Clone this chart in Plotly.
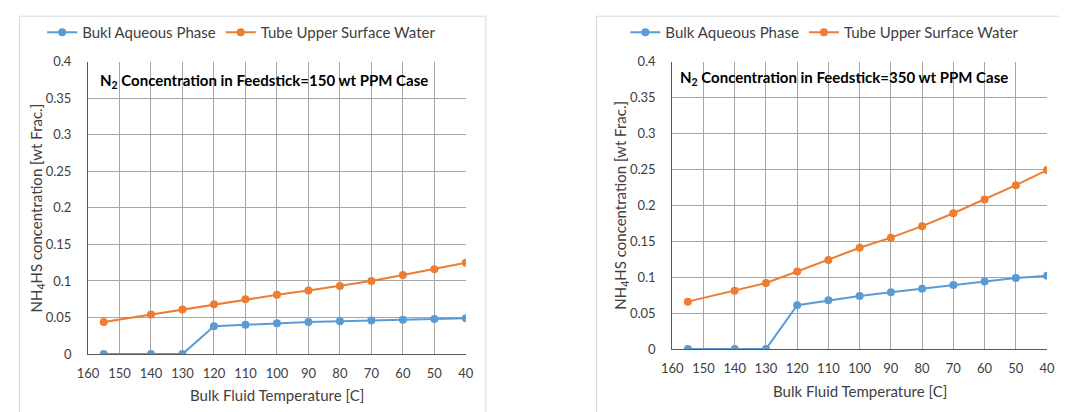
import plotly.graph_objects as go

temps = [155, 140, 130, 120, 110, 100, 90, 80, 70, 60, 50, 40]
x_ticks = [160, 150, 140, 130, 120, 110, 100, 90, 80, 70, 60, 50, 40]

left_bulk = [0, 0, 0, 0.038, 0.040, 0.042, 0.044, 0.045, 0.046, 0.047, 0.048, 0.049]
left_tube = [0.044, 0.054, 0.061, 0.068, 0.075, 0.081, 0.087, 0.093, 0.100, 0.108, 0.116, 0.125]
right_bulk = [0, 0, 0, 0.061, 0.068, 0.074, 0.079, 0.084, 0.089, 0.094, 0.099, 0.102]
right_tube = [0.066, 0.081, 0.092, 0.108, 0.124, 0.141, 0.155, 0.171, 0.189, 0.208, 0.228, 0.249]

left_names = ["Bukl Aqueous Phase", "Tube Upper Surface Water"]
right_names = ["Bulk Aqueous Phase", "Tube Upper Surface Water"]
left_title = "<b>N<sub>2</sub> Concentration in Feedstick=150 wt PPM Case</b>"
right_title = "<b>N<sub>2</sub> Concentration in Feedstick=350 wt PPM Case</b>"
x_title = "Bulk Fluid Temperature [C]"
y_title = "NH<sub>4</sub>HS concentration [wt Frac.]"

BLUE = "#5B9BD5"
ORANGE = "#ED7D31"
TXT = "#404040"
FONT = "Lato"
W, H = 1067, 412
# mapping from target picture pixels to figure pixels (page offset / capture scale)
SX, SY = 1083 / 1067, 428 / 412
OFF = 16


def px(v):
    return (v * SX - OFF) / W


def py(v):
    return 1 - (v * SY - OFF) / H


fig = go.Figure()

for vals, name, color, xa, ya, lg in [
    (left_bulk, left_names[0], BLUE, "x", "y", "legend"),
    (left_tube, left_names[1], ORANGE, "x", "y", "legend"),
    (right_bulk, right_names[0], BLUE, "x2", "y2", "legend2"),
    (right_tube, right_names[1], ORANGE, "x2", "y2", "legend2"),
]:
    fig.add_trace(go.Scatter(
        x=temps, y=vals, name=name, mode="lines+markers",
        line=dict(color=color, width=2),
        marker=dict(color=color, size=8),
        xaxis=xa, yaxis=ya, legend=lg,
    ))

axis_common = dict(
    showgrid=True, gridcolor="#a6a6a6", gridwidth=1,
    showline=True, linecolor="#595959", linewidth=1,
    zeroline=False, ticks="",
    tickfont=dict(family=FONT, size=13, color=TXT),
)

fig.update_layout(
    width=W, height=H,
    margin=dict(l=0, r=0, t=0, b=0),
    paper_bgcolor="white", plot_bgcolor="white",
    font=dict(family=FONT, color=TXT),
    xaxis=dict(domain=[px(85), px(464)], range=[160, 40], tickvals=x_ticks,
               anchor="y", ticklabelstandoff=7, **axis_common),
    yaxis=dict(domain=[py(354), py(61)], range=[0, 0.4], dtick=0.05, anchor="x",
               ticklabelstandoff=13, **axis_common),
    xaxis2=dict(domain=[px(671), px(1047)], range=[160, 40], tickvals=x_ticks,
                anchor="y2", ticklabelstandoff=7, **axis_common),
    yaxis2=dict(domain=[py(349), py(61)], range=[0, 0.4], dtick=0.05, anchor="x2",
                ticklabelstandoff=13, **axis_common),
    legend=dict(orientation="h", x=px(39), y=py(32), xanchor="left", yanchor="middle",
                font=dict(family=FONT, size=15, color=TXT), bgcolor="rgba(0,0,0,0)"),
    legend2=dict(orientation="h", x=px(624), y=py(32), xanchor="left", yanchor="middle",
                 font=dict(family=FONT, size=15, color=TXT), bgcolor="rgba(0,0,0,0)"),
    showlegend=True,
)

for title, x0, y0 in [(left_title, 95, 80), (right_title, 677, 77)]:
    fig.add_annotation(text=title, xref="paper", yref="paper", x=px(x0), y=py(y0),
                       xanchor="left", yanchor="middle", showarrow=False,
                       font=dict(family=FONT, size=15, color="black"))

for cx, cy in [(275, 395), (859, 391)]:
    fig.add_annotation(text=x_title, xref="paper", yref="paper", x=px(cx), y=py(cy),
                       xanchor="center", yanchor="middle", showarrow=False,
                       font=dict(family=FONT, size=15, color=TXT))

for cx, cy in [(34, 208), (620, 205)]:
    fig.add_annotation(text=y_title, xref="paper", yref="paper", x=px(cx), y=py(cy),
                       xanchor="center", yanchor="middle", showarrow=False, textangle=-90,
                       font=dict(family=FONT, size=15, color=TXT))

# chart panel borders
fig.add_shape(type="rect", xref="paper", yref="paper", x0=max(px(8), 0.0005), x1=px(484),
              y0=py(440), y1=min(py(12), 0.9995),
              line=dict(color="#d9d9d9", width=1), layer="below")
fig.add_shape(type="rect", xref="paper", yref="paper", x0=px(595), x1=px(1090),
              y0=py(440), y1=min(py(12), 0.9995),
              line=dict(color="#d9d9d9", width=1), layer="below")

fig.write_html("out.html")
